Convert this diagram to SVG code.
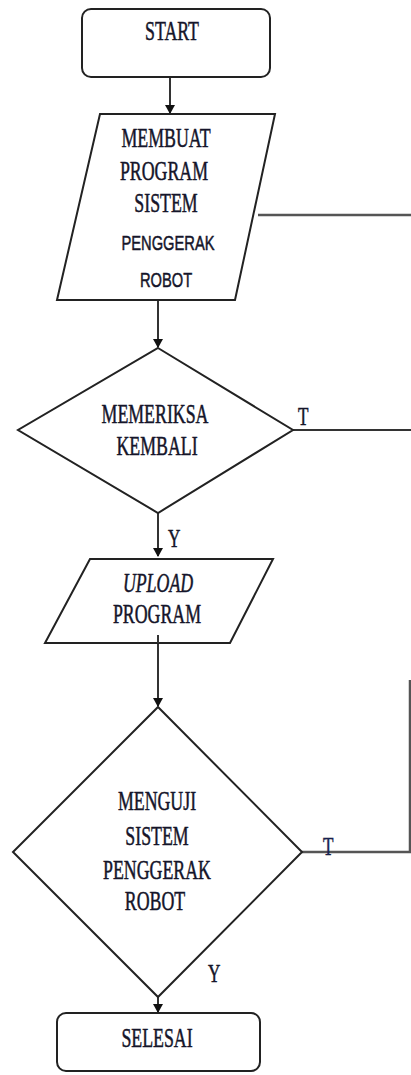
<svg xmlns="http://www.w3.org/2000/svg" width="411" height="1075" viewBox="0 0 411 1075">
<style>
.shape{fill:#fff;stroke:#222;stroke-width:2}
.con{fill:none;stroke:#333;stroke-width:2}
.grey{fill:none;stroke:#555;stroke-width:2.5}
.t{font-family:"Liberation Serif","Times New Roman",serif;font-size:27px;fill:#15152a;stroke:#15152a;stroke-width:0.5;text-anchor:middle}
.s{font-family:"Liberation Sans",Arial,sans-serif;font-size:21px;fill:#15152a;stroke:#15152a;stroke-width:0.5;text-anchor:middle}
.lbl{font-family:"Liberation Serif","Times New Roman",serif;font-size:26px;fill:#15152a;stroke:#15152a;stroke-width:0.5}
</style>
<defs>
<marker id="ah" markerWidth="9" markerHeight="12" refX="8" refY="6" orient="auto" markerUnits="userSpaceOnUse" viewBox="0 0 9 12">
<path d="M0,1 L9,6 L0,11 Z" fill="#111"/>
</marker>
</defs>
<rect width="411" height="1075" fill="#fff"/>
<g id="connectors">
<line class="con" x1="170" y1="77" x2="170" y2="113" marker-end="url(#ah)"/>
<line class="con" x1="158" y1="300" x2="158" y2="347" marker-end="url(#ah)"/>
<line class="con" x1="158" y1="513" x2="158" y2="556" marker-end="url(#ah)"/>
<line class="con" x1="158" y1="635" x2="158" y2="706" marker-end="url(#ah)"/>
<line class="con" x1="158" y1="990" x2="158" y2="1012" marker-end="url(#ah)"/>
<line class="grey" x1="258" y1="215" x2="411" y2="215"/>
<line class="con" x1="293" y1="430" x2="411" y2="430"/>
<polyline class="grey" points="302,852 410,852 410,680"/>
<text class="lbl" transform="translate(298 425) scale(0.66 1)">T</text>
<text class="lbl" transform="translate(168 547) scale(0.66 1)">Y</text>
<text class="lbl" transform="translate(323 855) scale(0.66 1)" style="fill:#1a2a6a">T</text>
<text class="lbl" transform="translate(208 982) scale(0.66 1)">Y</text>
</g>
<g id="start">
<rect class="shape" x="82" y="9" width="188" height="68" rx="9"/>
<text class="t" transform="translate(172 40) scale(0.66 1)">START</text>
</g>
<g id="membuat">
<polygon class="shape" points="100,114 275,114 235,300 57,300"/>
<text class="t" transform="translate(166 147) scale(0.66 1)">MEMBUAT</text>
<text class="t" transform="translate(164 180) scale(0.66 1)">PROGRAM</text>
<text class="t" transform="translate(166 212) scale(0.66 1)">SISTEM</text>
<text class="s" transform="translate(168 250) scale(0.7 1)">PENGGERAK</text>
<text class="s" transform="translate(166 287) scale(0.7 1)">ROBOT</text>
</g>
<g id="memeriksa">
<polygon class="shape" points="158,348 293,430 158,513 18,430"/>
<text class="t" transform="translate(155 423) scale(0.66 1)">MEMERIKSA</text>
<text class="t" transform="translate(157 455) scale(0.66 1)">KEMBALI</text>
</g>
<g id="upload">
<polygon class="shape" points="90,559 273,559 230,643 45,643"/>
<text class="t" transform="translate(158 592) scale(0.66 1)" font-style="italic">UPLOAD</text>
<text class="t" transform="translate(157 623) scale(0.66 1)">PROGRAM</text>
<line class="con" x1="158" y1="635" x2="158" y2="643"/>
</g>
<g id="menguji">
<polygon class="shape" points="158,707 302,852 158,997 13,852"/>
<text class="t" transform="translate(157 810) scale(0.66 1)">MENGUJI</text>
<text class="t" transform="translate(157 845) scale(0.66 1)">SISTEM</text>
<text class="t" transform="translate(157 879) scale(0.66 1)">PENGGERAK</text>
<text class="t" transform="translate(155 910) scale(0.66 1)">ROBOT</text>
</g>
<g id="selesai">
<rect class="shape" x="57" y="1013" width="203" height="58" rx="9"/>
<text class="t" transform="translate(157 1047) scale(0.66 1)">SELESAI</text>
</g>
</svg>
